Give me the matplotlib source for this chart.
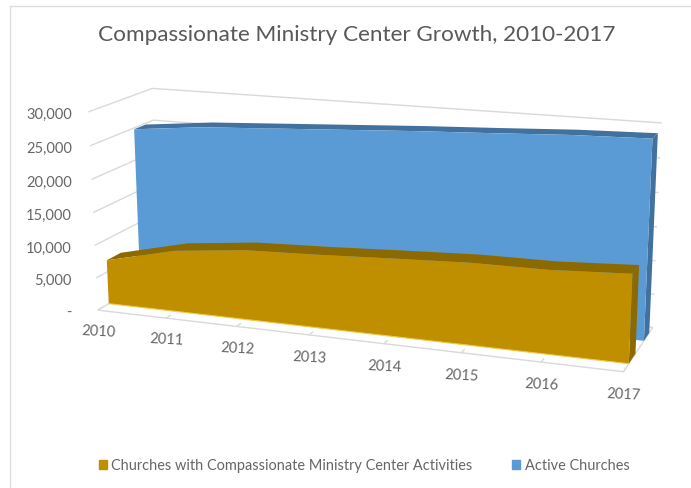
import numpy as np
import matplotlib
matplotlib.use("Agg")
import matplotlib.pyplot as plt
from matplotlib.patches import Patch

plt.rcParams['font.family'] = ['Lato', 'DejaVu Sans']

TITLE = "Compassionate Ministry Center Growth, 2010-2017"
years = ["2010", "2011", "2012", "2013", "2014", "2015", "2016", "2017"]
ministry = [6800, 9360, 10540, 10960, 11500, 12000, 12100, 12700]
active = [24800, 25900, 26500, 27100, 27700, 28200, 28750, 29050]
y_ticks = [0, 5000, 10000, 15000, 20000, 25000, 30000]
y_labels = ["-", "5,000", "10,000", "15,000", "20,000", "25,000", "30,000"]
series_names = ["Churches with Compassionate Ministry Center Activities", "Active Churches"]

GOLD, GOLD_DK = "#BF8F00", "#8C6A00"
BLUE, BLUE_DK = "#5B9BD5", "#41719C"
GRID, TXT = "#D9D9D9", "#666666"

# Camera calibration: (year index, value, depth) -> pixel, fitted as a projective map
calib = [
    (0, 0, 0, 97, 310), (1, 0, 0, 167, 320), (2, 0, 0, 237, 328), (3, 0, 0, 308, 337),
    (4, 0, 0, 384, 345), (5, 0, 0, 462, 353), (6, 0, 0, 541, 363), (7, 0, 0, 623, 373),
    (0, 30000, 0, 88, 113), (0, 25000, 0, 90, 147), (0, 20000, 0, 92, 180),
    (0, 15000, 0, 93, 213), (0, 10000, 0, 95, 246), (0, 5000, 0, 96, 279),
    (0, 30000, 1, 152, 90), (7, 30000, 1, 662, 124), (7, 25000, 1, 660, 159),
    (7, 20000, 1, 659, 193), (7, 15000, 1, 657, 228), (7, 10000, 1, 656, 262),
    (7, 5000, 1, 654, 295), (7, 0, 1, 653, 328),
]
A, b = [], []
for t, v, d, px, py in calib:
    w = v / 30000
    A.append([t, w, d, 1, 0, 0, 0, 0, -px * t, -px * w, -px * d]); b.append(px)
    A.append([0, 0, 0, 0, t, w, d, 1, -py * t, -py * w, -py * d]); b.append(py)
H = np.linalg.lstsq(np.array(A, float), np.array(b, float), rcond=None)[0]
H = np.append(H, 1.0).reshape(3, 4)


def proj(t, v, d):
    p = H @ np.array([t, v / 30000, d, 1.0])
    return p[0] / p[2], p[1] / p[2]


fig = plt.figure(figsize=(6.91, 4.89), dpi=100)
ax = fig.add_axes([0, 0, 1, 1])
ax.set_xlim(0, 691)
ax.set_ylim(489, 0)
ax.axis("off")

# chart frame
ax.plot([10, 10, 691], [489, 7, 7], color="#DDDDDD", lw=1, zorder=1)


def line3(pts, zorder=1, **kw):
    xy = np.array([proj(*p) for p in pts])
    ax.plot(xy[:, 0], xy[:, 1], solid_capstyle="butt", zorder=zorder, **kw)


def poly3(pts, zorder=3, **kw):
    ax.fill(*np.array([proj(*p) for p in pts]).T, lw=0, zorder=zorder, **kw)


# walls
for v in y_ticks:
    line3([(0, v, 0), (0, v, 1), (7, v, 1)], color=GRID, lw=1)
line3([(0, 0, 0), (7, 0, 0), (7, 0, 1)], color=GRID, lw=1)
for i in range(8):
    line3([(i, 0, 0), (i, 0, 0.08)], color=GRID, lw=1)


def area(vals, d0, d1, face, dark, z):
    n = len(vals)
    ts = range(n)
    # top ribbon
    poly3([(t, vals[t], d0) for t in ts] + [(t, vals[t], d1) for t in reversed(ts)], color=dark, zorder=z)
    # right end
    poly3([(n - 1, 0, d0), (n - 1, vals[-1], d0), (n - 1, vals[-1], d1), (n - 1, 0, d1)], color=dark, zorder=z)
    # front face
    poly3([(0, 0, d0)] + [(t, vals[t], d0) for t in ts] + [(n - 1, 0, d0)], color=face, zorder=z + 0.5)


area(active, 0.68, 0.87, BLUE, BLUE_DK, 3)
area(ministry, 0.17, 0.39, GOLD, GOLD_DK, 5)
line3([(0, 0, 0.17), (7, 0, 0.17)], color="#F2C94C", lw=0.8, zorder=6)

# labels
for i, lab in enumerate(years):
    x, y = proj(i, 0, 0)
    ax.text(x + 1 - 0.1 * i, y + 21 + 0.2 * i, lab, ha="center", va="center", fontsize=10.5, color=TXT, rotation=-3)
for v, lab in zip(y_ticks, y_labels):
    x, y = proj(0, v, 0)
    ax.text(72, y + 2, lab, ha="right", va="center", fontsize=10.5, color=TXT)

ax.text(357, 35, TITLE, ha="center", va="center", fontsize=16.2, color="#595959")

ax.legend(handles=[Patch(color=GOLD, label=series_names[0]), Patch(color=BLUE, label=series_names[1])],
          loc="center", bbox_to_anchor=(364 / 691, 1 - 466.5 / 489), ncol=2, frameon=False,
          fontsize=10.45, labelcolor=TXT, handlelength=0.55, handleheight=0.6, handletextpad=0.3,
          columnspacing=2.75, borderpad=0, borderaxespad=0)

fig.savefig("out.png", dpi=100)
